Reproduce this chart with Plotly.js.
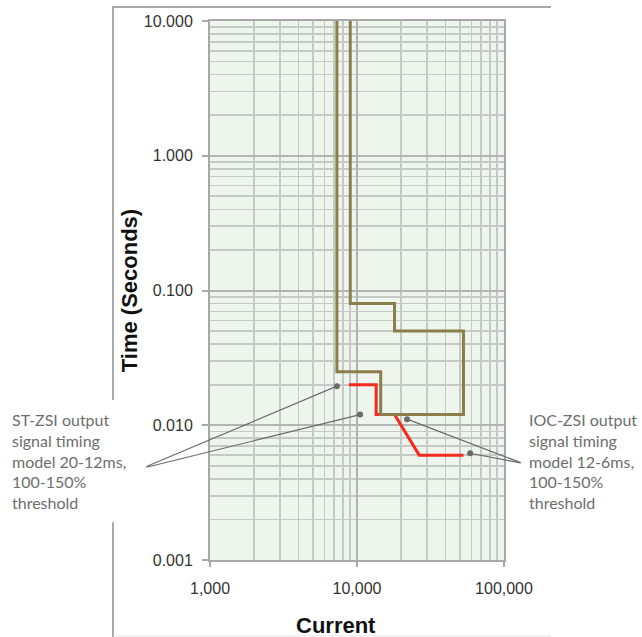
<!DOCTYPE html>
<html>
<head>
<meta charset="utf-8">
<script src="https://cdn.plot.ly/plotly-3.0.1.min.js"></script>
<style>html,body{margin:0;padding:0;background:#fff;}#chart{width:642px;height:637px;}</style>
</head>
<body>
<div id="chart"></div>
<script>
// ---- data ----
const olivePathCurrent = [7300, 7300, 14500, 14500, 53000, 53000, 18000, 18000, 9000, 9000];
const olivePathTime    = [10, 0.025, 0.025, 0.012, 0.012, 0.05, 0.05, 0.08, 0.08, 10];
const redPathCurrent   = [8800, 13500, 13500, 18000, 26500, 53000];
const redPathTime      = [0.02, 0.02, 0.012, 0.012, 0.006, 0.006];
const pointerCurrent   = [7300, 10500, 21900, 58800];
const pointerTime      = [0.0195, 0.012, 0.0111, 0.0062];
const xTickVals  = [1000, 10000, 100000];
const xTickText  = ['1,000', '10,000', '100,000'];
const yTickVals  = [0.001, 0.01, 0.1, 1, 10];
const yTickText  = ['0.001', '0.010', '0.100', '1.000', '10.000'];
const leftLabel  = 'ST-ZSI output<br>signal timing<br>model 20-12ms,<br>100-150%<br>threshold';
const rightLabel = 'IOC-ZSI output<br>signal timing<br>model 12-6ms,<br>100-150%<br>threshold';

// minor gridline positions (2..9 in each decade)
function minorVals(lo, hi) {
  const v = [];
  for (let d = lo; d < hi; d *= 10) for (let k = 2; k <= 9; k++) v.push(+(k * d).toPrecision(3));
  return v;
}

const traces = [
  {x: redPathCurrent, y: redPathTime, mode: 'lines', line: {color: '#f52a1e', width: 3}, hoverinfo: 'skip'},
  {x: olivePathCurrent, y: olivePathTime, mode: 'lines', line: {color: '#8c7e4b', width: 3}, hoverinfo: 'skip'},
  {x: pointerCurrent, y: pointerTime, mode: 'markers', marker: {color: '#6b6b6b', size: 6}, cliponaxis: false, hoverinfo: 'skip'}
];

const axisFont = {family: 'Arial', size: 16, color: '#333333'};
const labelFont = {family: 'Lato', size: 16, color: '#6e6e6e'};
const pointerOffsets = [[-192, 81], [-215, 53], [115, 44], [52, 10]];

const annotations = pointerCurrent.map((c, i) => ({
  x: Math.log10(c), y: Math.log10(pointerTime[i]), xref: 'x', yref: 'y',
  ax: pointerOffsets[i][0], ay: pointerOffsets[i][1], axref: 'pixel', ayref: 'pixel',
  text: '', showarrow: true, arrowhead: 0, arrowwidth: 1.2, arrowcolor: '#6b6b6b', standoff: 0, startstandoff: 0
}));
annotations.push(
  {xref: 'paper', yref: 'paper', x: -0.68, y: 0.184, xanchor: 'left', yanchor: 'middle', align: 'left',
   text: leftLabel, showarrow: false, font: labelFont},
  {xref: 'paper', yref: 'paper', x: 1.078, y: 0.184, xanchor: 'left', yanchor: 'middle', align: 'left',
   text: rightLabel, showarrow: false, font: labelFont},
  {xref: 'paper', yref: 'paper', x: 0.428, y: -0.121, xanchor: 'center', yanchor: 'middle',
   text: '<b>Current</b>', showarrow: false, font: {family: 'Arial', size: 22, color: '#111'}}
);

const frame = {type: 'line', xref: 'paper', yref: 'paper', line: {color: '#a8a8a8', width: 2}};
const shapes = [
  Object.assign({}, frame, {x0: -0.333, x1: 1.160, y0: 1.026, y1: 1.026}),
  Object.assign({}, frame, {x0: -0.330, x1: -0.330, y0: 1.026, y1: 0.297}),
  Object.assign({}, frame, {x0: -0.330, x1: -0.330, y0: 0.07, y1: -0.145}),
  Object.assign({}, frame, {x0: -0.330, x1: 1.160, y0: -0.141, y1: -0.141, line: {color: '#e4e4e4', width: 1}})
];

const layout = {
  width: 642, height: 637,
  margin: {l: 210, r: 138, t: 21, b: 77},
  paper_bgcolor: '#ffffff', plot_bgcolor: '#edf5ed',
  showlegend: false,
  xaxis: {
    type: 'log', range: [3, 5], tickmode: 'array', tickvals: xTickVals, ticktext: xTickText,
    tickfont: axisFont, ticks: 'outside', ticklen: 5, tickcolor: '#a8a8a8', tickwidth: 2,
    showgrid: true, gridcolor: '#b4b4b4', gridwidth: 2,
    minor: {tickmode: 'array', tickvals: minorVals(1000, 100000), showgrid: true, gridcolor: '#c6cac6', gridwidth: 1.7, ticks: ''},
    showline: true, mirror: true, linecolor: '#a8a8a8', linewidth: 2, zeroline: false,
    ticklabelstandoff: 8
  },
  yaxis: {
    type: 'log', range: [-3, 1], tickmode: 'array', tickvals: yTickVals, ticktext: yTickText,
    tickfont: axisFont, ticks: 'outside', ticklen: 6, tickcolor: '#a8a8a8', tickwidth: 2,
    showgrid: true, gridcolor: '#b4b4b4', gridwidth: 2,
    minor: {tickmode: 'array', tickvals: minorVals(0.001, 10), showgrid: true, gridcolor: '#c6cac6', gridwidth: 1.7, ticks: ''},
    showline: true, mirror: true, linecolor: '#a8a8a8', linewidth: 2, zeroline: false,
    ticklabelstandoff: 6,
    title: {text: '<b>Time (Seconds)</b>', font: {family: 'Arial', size: 22, color: '#111'}, standoff: 0}
  },
  annotations: annotations,
  shapes: shapes
};

Plotly.newPlot('chart', traces, layout, {displayModeBar: false, staticPlot: true});
</script>
</body>
</html>
